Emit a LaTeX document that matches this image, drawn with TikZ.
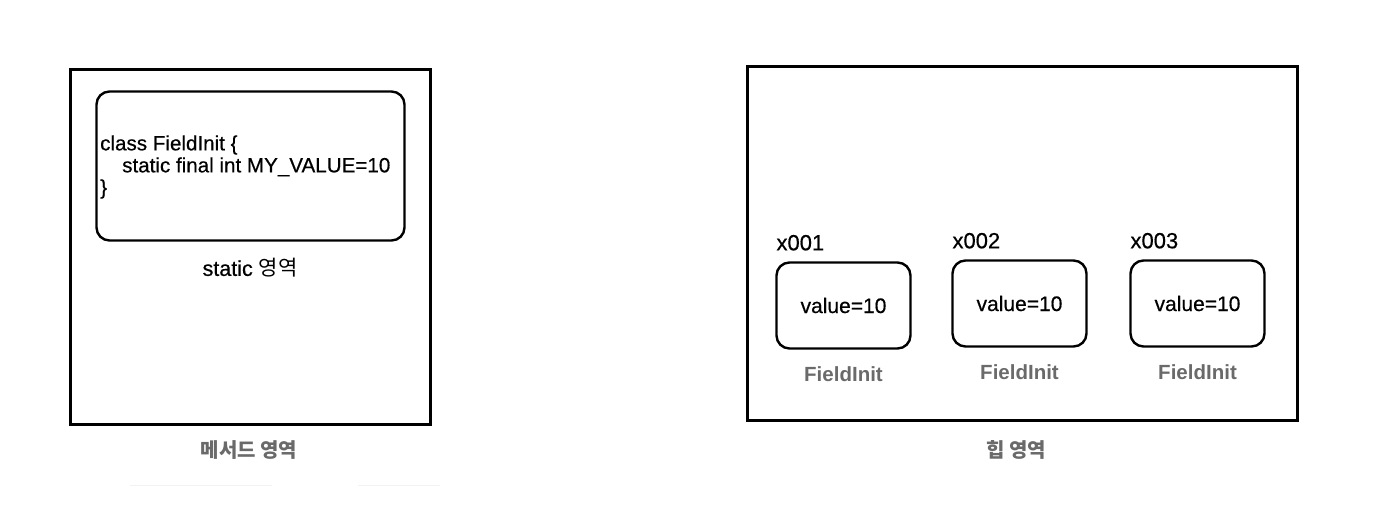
\documentclass[tikz,border=0pt]{standalone}
\usepackage{fontspec}
\setmainfont{Liberation Sans}[UprightFeatures={FakeBold=0.5}]
\newfontfamily\kr{Noto Sans CJK KR}
\definecolor{lblgrey}{HTML}{6A6A6A}
\tikzset{
  area/.style={draw,line width=3pt},
  obj/.style={draw,line width=2.4pt,rounded corners=13pt,minimum width=134pt,minimum height=86pt,
    font=\fontsize{21}{24}\selectfont},
  addr/.style={anchor=base west,inner sep=0pt,font=\fontsize{22}{24}\selectfont},
  cls/.style={text=lblgrey,inner sep=0pt,font=\bfseries\fontsize{20.5}{24}\selectfont},
  region/.style={text=lblgrey,inner sep=0pt,font=\kr\bfseries\fontsize{20}{24}\selectfont},
}
\begin{document}
\begin{tikzpicture}[x=1pt,y=-1pt]
  \useasboundingbox (0,0) rectangle (1380,528);
  % method area
  \draw[area] (70,69) rectangle (430,424);
  \node[obj,minimum width=308pt,minimum height=149pt] (clsbox) at (250.5,166) {};
  \node[anchor=west,align=left,inner sep=0pt,font=\fontsize{20.6}{22}\selectfont] (src) at (100,167)
    {class FieldInit \{\\\hspace*{22pt}static final int MY\_VALUE=10\\\}};
  \node[inner sep=0pt,font=\fontsize{21.5}{24}\selectfont] (static) at (250,268) {static {\kr\fontsize{21}{24}\selectfont 영역}};
  \node[region] (method) at (249,450) {메서드 영역};
  % heap area
  \draw[area] (747,66) rectangle (1297,420);
  \foreach \n/\x/\y in {1/843.5/305.5,2/1019.5/303.5,3/1197.5/303.5}{
    \node[obj] (o\n) at (\x,\y) {value=10};
    \node[addr] (a\n) at ([shift={(1,-11)}]o\n.north west) {x00\n};
    \node[cls] (f\n) at ([yshift=-24pt]o\n.south) {FieldInit};
  }
  \node[region] (heap) at (1016,450) {힙 영역};
  % faint marks
  \draw[gray!10,line width=1pt] (130,485) -- (272,485) (358,485) -- (440,485);
\end{tikzpicture}
\end{document}
